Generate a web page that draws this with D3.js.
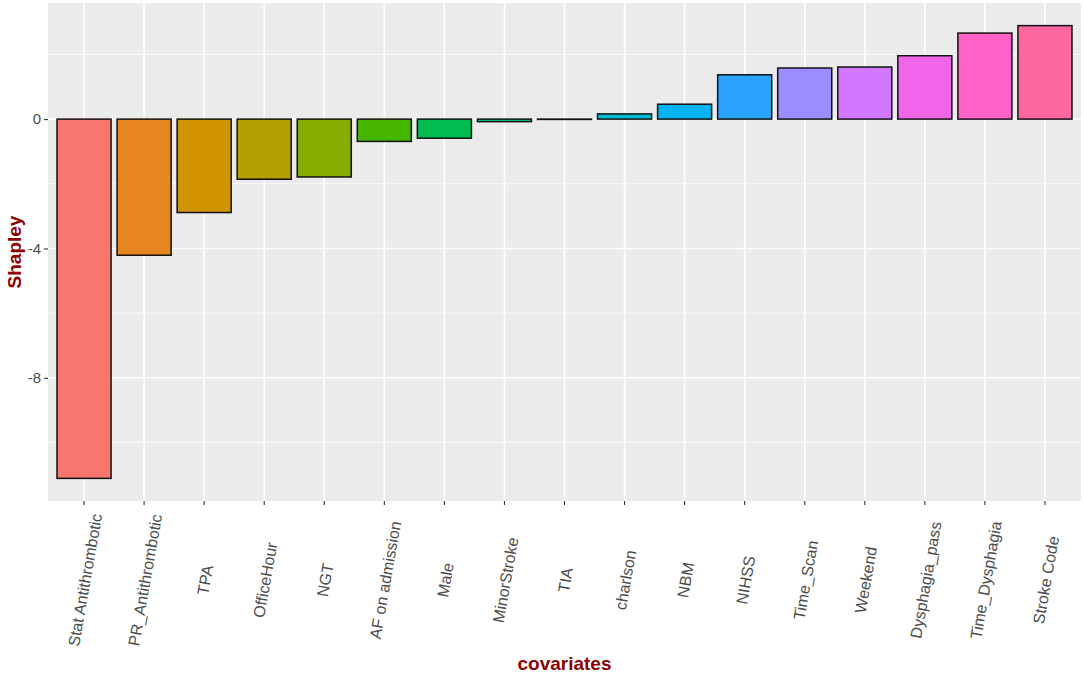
<!DOCTYPE html>
<html>
<head>
<meta charset="utf-8">
<script src="https://cdn.jsdelivr.net/npm/d3@7"></script>
<style>
    body { margin: 0; background: #fff; }
    text { font-family: "Liberation Sans", Arial, sans-serif; }
</style>
</head>
<body>
<div id="chart"></div>
<script>
// covariates in plotting order
const covariates = ['Stat Antithrombotic', 'PR_Antithrombotic', 'TPA', 'OfficeHour', 'NGT', 'AF on admission', 'Male', 'MinorStroke', 'TIA', 'charlson', 'NBM', 'NIHSS', 'Time_Scan', 'Weekend', 'Dysphagia_pass', 'Time_Dysphagia', 'Stroke Code'];
// shapley values
const shapley = [-11.11, -4.21, -2.89, -1.86, -1.79, -0.69, -0.59, -0.08, -0.01, 0.16, 0.46, 1.37, 1.58, 1.61, 1.96, 2.66, 2.89];
const yTicks = [-8, -4, 0];
const yMinor = [-10, -6, -2, 2];

const margin = {
        top: 3,
        right: 3,
        bottom: 175,
        left: 48
    },
    width = 1084 - margin.left - margin.right,
    height = 676 - margin.top - margin.bottom;

// ggplot default hue palette (hcl in polar Luv, l = 65, c = 100)
function huePal(n) {
    const Xn = 95.047, Yn = 100, Zn = 108.883;
    const un = 4 * Xn / (Xn + 15 * Yn + 3 * Zn),
        vn = 9 * Yn / (Xn + 15 * Yn + 3 * Zn);
    const L = 65, C = 100;
    const gam = c => {
        c = c <= 0.0031308 ? 12.92 * c : 1.055 * Math.pow(c, 1 / 2.4) - 0.055;
        return Math.round(Math.max(0, Math.min(1, c)) * 255);
    };
    const out = [];
    for (let i = 0; i < n; i++) {
        const h = (15 + 360 * i / n) * Math.PI / 180;
        const u = C * Math.cos(h), v = C * Math.sin(h);
        const Y = Yn * Math.pow((L + 16) / 116, 3);
        const up = u / (13 * L) + un, vp = v / (13 * L) + vn;
        const X = Y * 9 * up / (4 * vp);
        const Z = Y * (12 - 3 * up - 20 * vp) / (4 * vp);
        const x = X / 100, y = Y / 100, z = Z / 100;
        const r = 3.2404542 * x - 1.5371385 * y - 0.4985314 * z;
        const g = -0.9692660 * x + 1.8760108 * y + 0.0415560 * z;
        const b = 0.0556434 * x - 0.2040259 * y + 1.0572252 * z;
        out.push(d3.rgb(gam(r), gam(g), gam(b)).formatHex());
    }
    return out;
}

const data = covariates.map((c, i) => ({ name: c, value: shapley[i] }));

const svg = d3.select("#chart")
    .append("svg")
    .attr("width", width + margin.left + margin.right)
    .attr("height", height + margin.top + margin.bottom)
    .append("g")
    .attr("transform", `translate(${margin.left},${margin.top})`);

// discrete axis with ggplot's 0.6 expansion on each side
const x = d3.scaleBand()
    .domain(covariates)
    .range([0, width])
    .paddingInner(0.1)
    .paddingOuter(0.15);

const ext = d3.extent(shapley.concat([0]));
const pad = (ext[1] - ext[0]) * 0.05;
const y = d3.scaleLinear()
    .domain([ext[0] - pad, ext[1] + pad])
    .range([height, 0]);

const color = d3.scaleOrdinal()
    .domain(covariates)
    .range(huePal(covariates.length));

// panel
svg.append("rect")
    .attr("width", width)
    .attr("height", height)
    .attr("fill", "#EBEBEB");

svg.selectAll(".minor")
    .data(yMinor)
    .enter()
    .append("line")
    .attr("x1", 0)
    .attr("x2", width)
    .attr("y1", d => y(d))
    .attr("y2", d => y(d))
    .attr("stroke", "#fff")
    .attr("stroke-width", 0.8);

svg.selectAll(".majorY")
    .data(yTicks)
    .enter()
    .append("line")
    .attr("x1", 0)
    .attr("x2", width)
    .attr("y1", d => y(d))
    .attr("y2", d => y(d))
    .attr("stroke", "#fff")
    .attr("stroke-width", 1.6);

svg.selectAll(".majorX")
    .data(covariates)
    .enter()
    .append("line")
    .attr("x1", d => x(d) + x.bandwidth() / 2)
    .attr("x2", d => x(d) + x.bandwidth() / 2)
    .attr("y1", 0)
    .attr("y2", height)
    .attr("stroke", "#fff")
    .attr("stroke-width", 1.6);

// bars
svg.selectAll(".bar")
    .data(data)
    .enter()
    .append("rect")
    .attr("x", d => x(d.name))
    .attr("width", x.bandwidth())
    .attr("y", d => y(Math.max(0, d.value)))
    .attr("height", d => Math.abs(y(d.value) - y(0)))
    .attr("fill", d => color(d.name))
    .attr("stroke", "#111")
    .attr("stroke-width", 1.5)
    .append("title")
    .text(d => `${d.name}: ${d.value}`);

// Y axis (plain hyphen for negatives, like R)
const yAxis = svg.append("g")
    .call(d3.axisLeft(y).tickValues(yTicks).tickSize(4).tickPadding(3).tickFormat(d => String(d)));
yAxis.select(".domain").remove();
yAxis.selectAll("line").attr("stroke", "#333").attr("stroke-width", 1.1);
yAxis.selectAll("text")
    .attr("fill", "#4D4D4D")
    .style("font-size", "15px");

// X axis
const xAxis = svg.append("g")
    .attr("transform", `translate(0, ${height})`)
    .call(d3.axisBottom(x).tickSize(4));
xAxis.select(".domain").remove();
xAxis.selectAll("line").attr("stroke", "#333").attr("stroke-width", 1.1);
xAxis.selectAll("text")
    .attr("fill", "#4D4D4D")
    .style("font-size", "16px")
    .attr("y", 0)
    .attr("dy", "0.35em")
    .attr("text-anchor", "middle")
    .attr("transform", "translate(1, 79) rotate(-80)");

// axis titles
svg.append("text")
    .attr("transform", `translate(${width / 2},${height + 169})`)
    .style("text-anchor", "middle")
    .style("font-size", "19px")
    .style("font-weight", "bold")
    .attr("fill", "#8B0000")
    .text("covariates");

svg.append("text")
    .attr("transform", "rotate(-90)")
    .attr("y", 21 - margin.left)
    .attr("x", 0 - height / 2)
    .style("text-anchor", "middle")
    .style("font-size", "19px")
    .style("font-weight", "bold")
    .attr("fill", "#8B0000")
    .text("Shapley");
</script>
</body>
</html>
